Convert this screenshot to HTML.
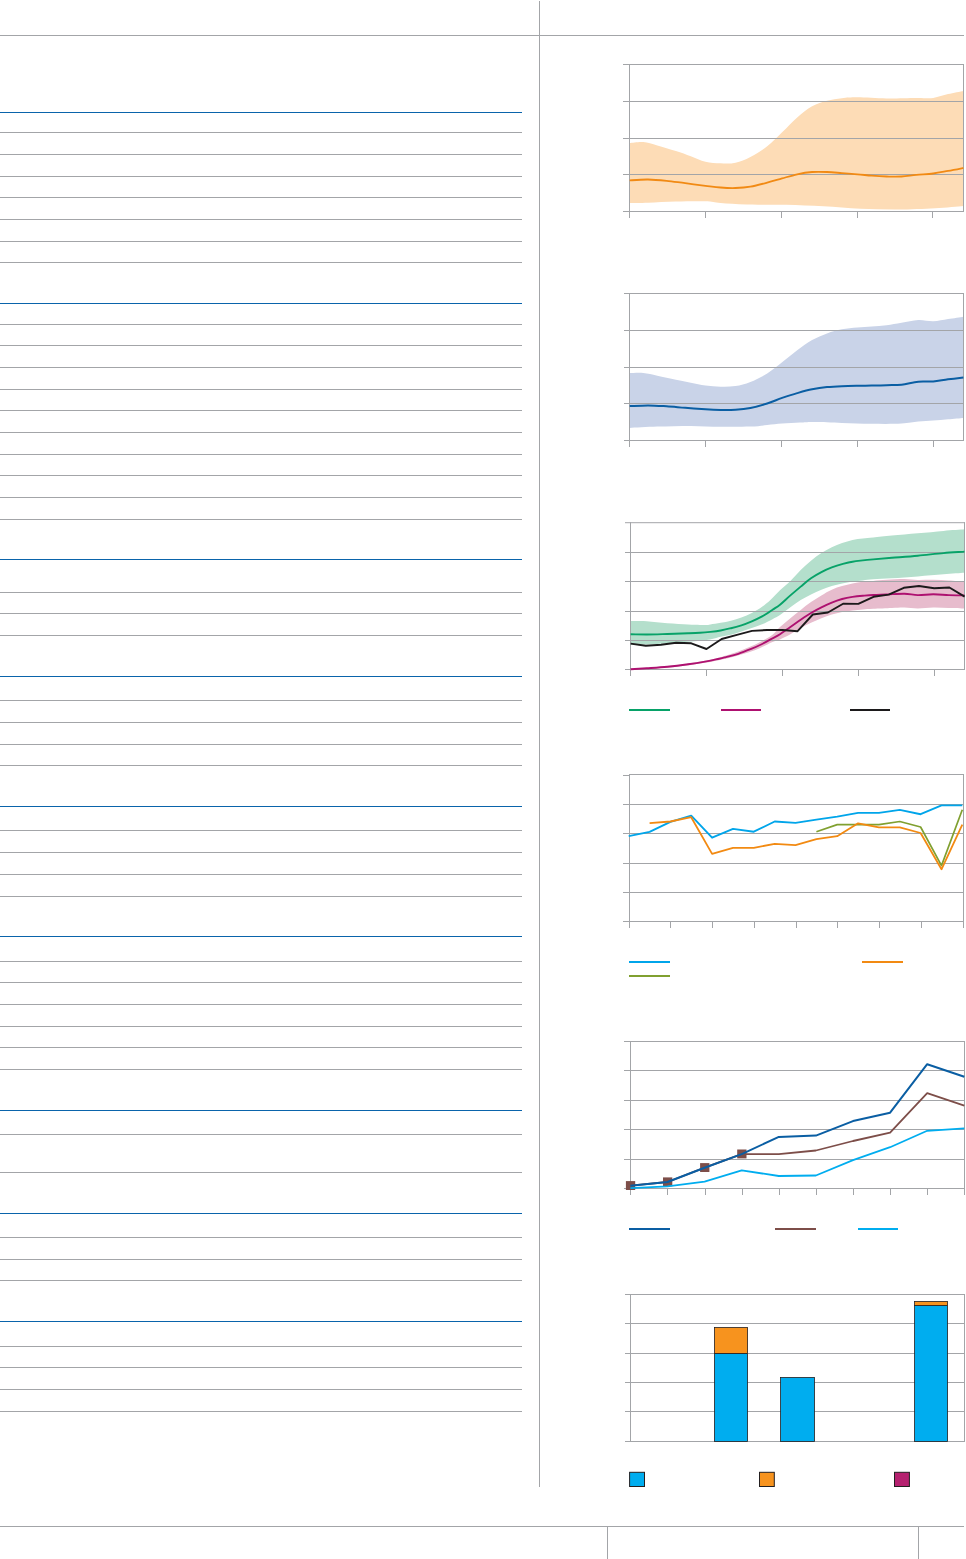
<!DOCTYPE html>
<html lang="en"><head><meta charset="utf-8"><title>Page</title>
<style>
html,body{margin:0;padding:0;background:#fff;font-family:"Liberation Sans",sans-serif;}
svg{display:block}
</style></head>
<body>
<svg width="966" height="1559" viewBox="0 0 966 1559" shape-rendering="auto">
<rect width="966" height="1559" fill="#fff"/>
<rect x="0" y="35" width="964" height="1" fill="#a3a5a8" />
<rect x="539" y="1" width="1" height="1486" fill="#a3a5a8" />
<rect x="0" y="1526" width="964" height="1" fill="#a3a5a8" />
<rect x="607" y="1526" width="1" height="33" fill="#a3a5a8" />
<rect x="918" y="1526" width="1" height="33" fill="#a3a5a8" />
<rect x="0" y="132" width="522" height="1" fill="#a3a5a8" />
<rect x="0" y="154" width="522" height="1" fill="#a3a5a8" />
<rect x="0" y="176" width="522" height="1" fill="#a3a5a8" />
<rect x="0" y="197" width="522" height="1" fill="#a3a5a8" />
<rect x="0" y="219" width="522" height="1" fill="#a3a5a8" />
<rect x="0" y="241" width="522" height="1" fill="#a3a5a8" />
<rect x="0" y="262" width="522" height="1" fill="#a3a5a8" />
<rect x="0" y="324" width="522" height="1" fill="#a3a5a8" />
<rect x="0" y="345" width="522" height="1" fill="#a3a5a8" />
<rect x="0" y="367" width="522" height="1" fill="#a3a5a8" />
<rect x="0" y="389" width="522" height="1" fill="#a3a5a8" />
<rect x="0" y="410" width="522" height="1" fill="#a3a5a8" />
<rect x="0" y="432" width="522" height="1" fill="#a3a5a8" />
<rect x="0" y="454" width="522" height="1" fill="#a3a5a8" />
<rect x="0" y="475" width="522" height="1" fill="#a3a5a8" />
<rect x="0" y="497" width="522" height="1" fill="#a3a5a8" />
<rect x="0" y="519" width="522" height="1" fill="#a3a5a8" />
<rect x="0" y="592" width="522" height="1" fill="#a3a5a8" />
<rect x="0" y="613" width="522" height="1" fill="#a3a5a8" />
<rect x="0" y="635" width="522" height="1" fill="#a3a5a8" />
<rect x="0" y="700" width="522" height="1" fill="#a3a5a8" />
<rect x="0" y="722" width="522" height="1" fill="#a3a5a8" />
<rect x="0" y="744" width="522" height="1" fill="#a3a5a8" />
<rect x="0" y="765" width="522" height="1" fill="#a3a5a8" />
<rect x="0" y="830" width="522" height="1" fill="#a3a5a8" />
<rect x="0" y="852" width="522" height="1" fill="#a3a5a8" />
<rect x="0" y="874" width="522" height="1" fill="#a3a5a8" />
<rect x="0" y="896" width="522" height="1" fill="#a3a5a8" />
<rect x="0" y="961" width="522" height="1" fill="#a3a5a8" />
<rect x="0" y="982" width="522" height="1" fill="#a3a5a8" />
<rect x="0" y="1004" width="522" height="1" fill="#a3a5a8" />
<rect x="0" y="1026" width="522" height="1" fill="#a3a5a8" />
<rect x="0" y="1047" width="522" height="1" fill="#a3a5a8" />
<rect x="0" y="1069" width="522" height="1" fill="#a3a5a8" />
<rect x="0" y="1134" width="522" height="1" fill="#a3a5a8" />
<rect x="0" y="1172" width="522" height="1" fill="#a3a5a8" />
<rect x="0" y="1237" width="522" height="1" fill="#a3a5a8" />
<rect x="0" y="1259" width="522" height="1" fill="#a3a5a8" />
<rect x="0" y="1280" width="522" height="1" fill="#a3a5a8" />
<rect x="0" y="1346" width="522" height="1" fill="#a3a5a8" />
<rect x="0" y="1367" width="522" height="1" fill="#a3a5a8" />
<rect x="0" y="1389" width="522" height="1" fill="#a3a5a8" />
<rect x="0" y="1411" width="522" height="1" fill="#a3a5a8" />
<rect x="0" y="112" width="522" height="1" fill="#0a64ab" />
<rect x="0" y="303" width="522" height="1" fill="#0a64ab" />
<rect x="0" y="559" width="522" height="1" fill="#0a64ab" />
<rect x="0" y="676" width="522" height="1" fill="#0a64ab" />
<rect x="0" y="806" width="522" height="1" fill="#0a64ab" />
<rect x="0" y="936" width="522" height="1" fill="#0a64ab" />
<rect x="0" y="1110" width="522" height="1" fill="#0a64ab" />
<rect x="0" y="1213" width="522" height="1" fill="#0a64ab" />
<rect x="0" y="1321" width="522" height="1" fill="#0a64ab" />
<path d="M629.7,143.0 C632.0,142.8 638.7,141.6 643.3,142.0 C647.9,142.4 651.9,143.9 657.3,145.4 C662.7,146.9 670.3,149.2 675.9,151.0 C681.5,152.8 685.9,154.4 690.8,156.2 C695.7,158.0 700.5,160.6 705.5,161.8 C710.5,163.0 715.6,163.2 720.6,163.3 C725.6,163.5 730.5,163.8 735.5,162.7 C740.5,161.6 745.1,159.6 750.4,156.9 C755.7,154.2 761.9,150.4 767.2,146.3 C772.5,142.2 777.1,137.1 782.1,132.3 C787.1,127.5 792.2,121.8 797.2,117.4 C802.2,113.1 807.1,109.0 812.1,106.2 C817.1,103.4 822.0,102.0 827.0,100.7 C832.0,99.4 836.8,98.8 841.9,98.2 C847.0,97.6 849.9,97.3 857.4,97.3 C864.9,97.3 876.8,98.3 886.6,98.4 C896.4,98.5 908.6,98.0 916.4,97.9 C924.2,97.8 927.9,98.5 933.2,97.9 C938.5,97.3 943.1,95.2 948.1,94.1 C953.1,92.9 960.9,91.5 963.4,91.0 L963.4,205.9 C958.7,206.3 946.0,207.6 935.1,208.2 C924.2,208.8 910.2,209.4 897.8,209.5 C885.4,209.6 872.9,209.2 860.5,208.7 C848.1,208.2 835.7,207.0 823.3,206.3 C810.9,205.7 798.8,205.1 786.0,204.8 C773.2,204.5 757.6,204.9 746.7,204.6 C735.8,204.3 727.5,203.6 720.6,203.1 C713.7,202.6 713.0,201.6 705.5,201.3 C698.0,201.1 685.5,201.3 675.9,201.6 C666.3,201.8 655.7,202.6 648.0,202.8 C640.3,203.1 632.8,203.1 629.7,203.1 Z" fill="#fddcb6"/>
<rect x="623" y="64" width="341" height="1" fill="#a3a5a8" />
<rect x="623" y="101" width="341" height="1" fill="#a3a5a8" />
<rect x="623" y="138" width="341" height="1" fill="#a3a5a8" />
<rect x="623" y="174" width="341" height="1" fill="#a3a5a8" />
<rect x="623" y="211" width="341" height="1" fill="#a3a5a8" />
<rect x="629" y="64" width="1" height="154" fill="#a3a5a8" />
<rect x="963" y="64" width="1" height="148" fill="#a3a5a8" />
<rect x="705" y="211" width="1" height="7" fill="#a3a5a8" />
<rect x="781" y="211" width="1" height="7" fill="#a3a5a8" />
<rect x="857" y="211" width="1" height="7" fill="#a3a5a8" />
<rect x="932" y="211" width="1" height="7" fill="#a3a5a8" />
<path d="M629.7,180.4 C632.8,180.2 641.9,179.4 648.0,179.5 C654.1,179.6 660.4,180.2 666.6,180.8 C672.8,181.4 678.7,182.4 685.2,183.2 C691.7,184.0 699.6,185.1 705.5,185.8 C711.4,186.5 715.6,187.1 720.6,187.5 C725.6,187.9 730.5,188.2 735.5,188.0 C740.5,187.8 745.1,187.5 750.4,186.6 C755.7,185.7 761.9,184.0 767.2,182.6 C772.5,181.2 777.1,179.8 782.1,178.4 C787.1,177.0 792.2,175.4 797.2,174.3 C802.2,173.2 807.1,172.4 812.1,172.0 C817.1,171.6 822.0,171.8 827.0,172.0 C832.0,172.2 836.8,172.7 841.9,173.1 C847.0,173.5 852.4,173.9 857.4,174.3 C862.4,174.7 866.8,175.3 871.7,175.7 C876.6,176.1 881.6,176.4 886.6,176.5 C891.6,176.6 896.5,176.8 901.5,176.5 C906.5,176.2 911.1,175.3 916.4,174.8 C921.7,174.3 927.9,174.2 933.2,173.5 C938.5,172.8 943.1,171.8 948.1,170.9 C953.1,170.0 960.9,168.4 963.4,167.9" fill="none" stroke="#f18a14" stroke-width="1.8"/>
<path d="M629.7,373.1 C632.0,373.1 638.7,372.6 643.3,373.0 C647.9,373.4 651.9,374.6 657.3,375.7 C662.7,376.8 670.3,378.5 675.9,379.7 C681.5,380.9 685.9,381.8 690.8,382.8 C695.7,383.8 700.5,385.0 705.5,385.6 C710.5,386.2 715.6,386.6 720.6,386.7 C725.6,386.8 730.5,386.8 735.5,386.0 C740.5,385.2 745.1,384.0 750.4,381.9 C755.7,379.8 761.9,376.8 767.2,373.5 C772.5,370.2 777.1,366.2 782.1,362.3 C787.1,358.4 792.2,353.9 797.2,350.2 C802.2,346.5 807.1,342.8 812.1,340.0 C817.1,337.2 822.0,335.2 827.0,333.4 C832.0,331.6 836.8,330.3 841.9,329.3 C847.0,328.3 852.4,328.0 857.4,327.5 C862.4,327.0 866.8,326.8 871.7,326.4 C876.6,326.0 881.6,325.8 886.6,325.2 C891.6,324.6 896.2,323.7 901.5,322.8 C906.8,321.9 913.0,320.2 918.3,320.0 C923.6,319.8 928.2,321.4 933.2,321.3 C938.2,321.2 943.1,319.9 948.1,319.1 C953.1,318.3 960.9,317.1 963.4,316.7 L963.4,417.9 C960.9,418.1 953.1,418.8 948.1,419.2 C943.1,419.6 938.2,420.2 933.2,420.6 C928.2,421.0 923.6,421.1 918.3,421.6 C913.0,422.1 909.3,423.2 901.5,423.6 C893.7,424.0 881.6,423.9 871.7,423.8 C861.8,423.7 851.5,423.2 841.9,422.9 C832.3,422.6 821.0,422.1 814.0,422.0 C807.0,421.9 805.3,422.3 800.0,422.6 C794.7,422.9 787.6,423.2 782.1,423.6 C776.6,424.0 772.5,424.6 767.2,425.1 C761.9,425.6 758.2,426.3 750.4,426.6 C742.6,426.9 730.5,426.9 720.6,426.8 C710.7,426.7 701.3,425.9 690.8,425.9 C680.2,425.9 667.5,426.3 657.3,426.6 C647.1,426.9 634.3,427.7 629.7,427.9 Z" fill="#c9d3e8"/>
<rect x="624" y="293" width="340" height="1" fill="#a3a5a8" />
<rect x="624" y="330" width="340" height="1" fill="#a3a5a8" />
<rect x="624" y="367" width="340" height="1" fill="#a3a5a8" />
<rect x="624" y="403" width="340" height="1" fill="#a3a5a8" />
<rect x="624" y="440" width="340" height="1" fill="#a3a5a8" />
<rect x="629" y="293" width="1" height="154" fill="#a3a5a8" />
<rect x="963" y="293" width="1" height="148" fill="#a3a5a8" />
<rect x="705" y="440" width="1" height="7" fill="#a3a5a8" />
<rect x="781" y="440" width="1" height="7" fill="#a3a5a8" />
<rect x="857" y="440" width="1" height="7" fill="#a3a5a8" />
<rect x="933" y="440" width="1" height="7" fill="#a3a5a8" />
<path d="M629.7,406.1 C632.8,406.0 641.9,405.4 648.0,405.4 C654.1,405.4 660.4,405.9 666.6,406.3 C672.8,406.7 678.7,407.3 685.2,407.8 C691.7,408.3 699.6,408.9 705.5,409.3 C711.4,409.7 715.6,409.9 720.6,410.0 C725.6,410.1 730.5,410.1 735.5,409.8 C740.5,409.5 745.1,409.1 750.4,408.0 C755.7,406.9 761.9,405.2 767.2,403.5 C772.5,401.8 777.1,399.6 782.1,397.9 C787.1,396.2 792.2,394.5 797.2,393.1 C802.2,391.7 807.1,390.3 812.1,389.3 C817.1,388.3 822.0,387.6 827.0,387.1 C832.0,386.6 836.8,386.4 841.9,386.2 C847.0,386.0 852.4,385.9 857.4,385.8 C862.4,385.7 866.8,385.7 871.7,385.6 C876.6,385.5 881.6,385.4 886.6,385.2 C891.6,385.0 896.2,385.3 901.5,384.7 C906.8,384.1 913.0,382.2 918.3,381.7 C923.6,381.2 928.2,381.9 933.2,381.5 C938.2,381.1 943.1,379.9 948.1,379.3 C953.1,378.7 960.9,377.9 963.4,377.6" fill="none" stroke="#0a5ea3" stroke-width="2.0"/>
<path d="M630.6,620.9 C633.3,621.0 640.6,620.8 646.7,621.2 C652.8,621.6 660.5,622.8 667.4,623.3 C674.3,623.8 682.7,624.2 688.1,624.5 C693.5,624.8 697.0,624.8 700.0,624.9 C703.0,625.0 704.7,625.1 706.4,625.0 C708.1,624.9 708.0,624.8 710.4,624.4 C712.8,624.0 717.3,623.4 720.7,622.8 C724.1,622.2 727.5,621.6 731.0,620.7 C734.5,619.8 737.9,618.9 741.4,617.6 C744.9,616.3 748.3,614.7 751.8,612.9 C755.2,611.1 759.0,608.9 762.1,606.7 C765.2,604.6 767.4,602.8 770.4,600.0 C773.4,597.2 776.7,593.4 780.0,590.2 C783.3,587.0 786.9,584.3 790.4,580.9 C793.9,577.5 797.3,573.4 800.7,570.0 C804.1,566.6 807.5,563.5 811.0,560.7 C814.5,557.9 817.9,555.2 821.4,553.0 C824.9,550.8 828.3,548.9 831.8,547.3 C835.2,545.6 838.6,544.3 842.1,543.1 C845.6,541.9 849.0,540.8 852.5,540.0 C856.0,539.2 859.3,538.9 862.8,538.5 C866.2,538.1 868.4,537.9 873.2,537.4 C878.1,536.9 884.5,536.2 891.9,535.5 C899.3,534.8 909.2,534.1 917.8,533.3 C926.4,532.5 935.8,531.6 943.6,530.9 C951.4,530.2 961.0,529.6 964.5,529.3 L964.5,572.8 C961.0,573.0 951.4,573.7 943.6,574.3 C935.8,574.9 926.4,575.8 917.8,576.4 C909.2,577.0 899.3,577.7 891.9,578.2 C884.5,578.7 878.1,578.9 873.2,579.3 C868.4,579.7 866.2,580.0 862.8,580.4 C859.3,580.8 856.0,581.1 852.5,581.6 C849.0,582.1 845.6,582.8 842.1,583.5 C838.6,584.2 835.2,585.1 831.8,586.1 C828.3,587.1 824.9,588.3 821.4,589.7 C817.9,591.1 814.5,592.7 811.0,594.4 C807.5,596.1 804.1,598.0 800.7,600.1 C797.3,602.2 793.9,604.8 790.4,607.3 C786.9,609.8 783.0,613.1 780.0,615.1 C777.0,617.1 775.5,617.7 772.5,619.2 C769.5,620.7 765.6,622.8 762.1,624.3 C758.6,625.8 755.2,626.8 751.8,628.0 C748.3,629.2 744.9,630.5 741.4,631.6 C737.9,632.7 734.5,633.9 731.0,634.7 C727.5,635.6 723.9,636.0 720.7,636.7 C717.5,637.4 714.9,638.3 712.0,638.9 C709.1,639.5 707.0,640.0 703.5,640.4 C700.0,640.8 695.7,641.1 691.2,641.5 C686.7,641.9 681.7,642.1 676.7,642.5 C671.7,642.9 666.1,643.5 661.0,643.8 C655.9,644.1 651.1,644.4 646.0,644.5 C640.9,644.6 633.2,644.7 630.6,644.7 Z" fill="#b4dfcc"/>
<path d="M630.6,668.9 C638.1,668.3 663.3,666.6 675.9,665.2 C688.5,663.8 698.9,661.7 706.4,660.4 C713.9,659.1 715.8,658.5 720.6,657.2 C725.5,655.9 730.3,654.5 735.5,652.6 C740.7,650.8 747.4,648.0 751.8,646.1 C756.2,644.2 758.6,642.9 762.1,641.0 C765.6,639.1 769.5,637.0 772.5,634.7 C775.5,632.4 777.0,629.8 780.0,627.0 C783.0,624.2 786.9,621.1 790.4,618.2 C793.9,615.4 797.3,612.6 800.7,609.9 C804.1,607.2 807.5,604.5 811.0,602.1 C814.5,599.7 817.9,597.5 821.4,595.4 C824.9,593.3 828.3,591.2 831.8,589.7 C835.2,588.2 838.6,587.1 842.1,586.1 C845.6,585.1 849.0,584.2 852.5,583.5 C856.0,582.8 859.3,582.1 862.8,581.7 C866.2,581.3 869.2,581.2 873.2,580.9 C877.2,580.6 881.5,580.1 886.7,579.8 C891.9,579.5 899.1,579.0 904.3,579.0 C909.5,579.0 913.0,579.9 917.8,580.0 C922.6,580.1 928.1,579.7 933.3,579.8 C938.5,579.9 943.6,580.3 948.8,580.6 C954.0,580.9 961.9,581.4 964.5,581.6 L964.5,608.5 C961.9,608.4 954.0,608.2 948.8,608.0 C943.6,607.8 938.5,607.4 933.3,607.5 C928.1,607.6 922.6,608.5 917.8,608.5 C913.0,608.5 908.6,607.6 904.3,607.5 C900.0,607.4 897.1,607.8 891.9,608.0 C886.7,608.2 878.1,608.6 873.2,608.8 C868.4,609.0 866.2,609.1 862.8,609.4 C859.3,609.7 856.0,610.0 852.5,610.4 C849.0,610.8 845.6,611.3 842.1,612.0 C838.6,612.7 835.2,613.5 831.8,614.5 C828.3,615.5 824.9,616.8 821.4,618.2 C817.9,619.6 814.5,621.2 811.0,622.8 C807.5,624.4 804.1,626.1 800.7,628.0 C797.3,629.9 793.9,632.3 790.4,634.2 C786.9,636.1 783.0,638.1 780.0,639.4 C777.0,640.7 775.5,640.6 772.5,641.9 C769.5,643.2 765.6,645.4 762.1,647.0 C758.6,648.6 756.2,649.8 751.8,651.3 C747.4,652.8 740.7,654.8 735.5,656.2 C730.3,657.6 725.5,658.7 720.6,659.8 C715.8,660.9 713.9,661.4 706.4,662.6 C698.9,663.8 688.5,665.7 675.9,666.9 C663.3,668.1 638.1,669.1 630.6,669.6 Z" fill="#e7bccd"/>
<rect x="625" y="522.2" width="340" height="1" fill="#a3a5a8" />
<rect x="625" y="552" width="340" height="1" fill="#a3a5a8" />
<rect x="625" y="581" width="340" height="1" fill="#a3a5a8" />
<rect x="625" y="611" width="340" height="1" fill="#a3a5a8" />
<rect x="625" y="640" width="340" height="1" fill="#a3a5a8" />
<rect x="625" y="669" width="340" height="1" fill="#a3a5a8" />
<rect x="630" y="522.2" width="1" height="153.8" fill="#a3a5a8" />
<rect x="964" y="522.2" width="1" height="147.8" fill="#a3a5a8" />
<rect x="706" y="669" width="1" height="7" fill="#a3a5a8" />
<rect x="782" y="669" width="1" height="7" fill="#a3a5a8" />
<rect x="858" y="669" width="1" height="7" fill="#a3a5a8" />
<rect x="934" y="669" width="1" height="7" fill="#a3a5a8" />
<path d="M630.6,634.3 C633.3,634.3 640.6,634.5 646.7,634.5 C652.8,634.5 660.5,634.2 667.4,634.0 C674.3,633.8 682.7,633.5 688.1,633.3 C693.5,633.1 696.3,633.0 700.0,632.8 C703.7,632.6 706.9,632.3 710.4,631.9 C713.9,631.5 717.3,631.1 720.7,630.5 C724.1,629.9 727.5,629.1 731.0,628.2 C734.5,627.4 737.9,626.5 741.4,625.4 C744.9,624.3 748.3,622.9 751.8,621.4 C755.2,619.9 758.6,618.3 762.1,616.4 C765.6,614.5 769.5,611.8 772.5,609.8 C775.5,607.8 777.0,607.1 780.0,604.7 C783.0,602.3 786.9,598.4 790.4,595.4 C793.9,592.4 797.3,589.5 800.7,586.6 C804.1,583.8 807.5,580.7 811.0,578.3 C814.5,575.9 817.9,573.9 821.4,572.1 C824.9,570.3 828.3,568.7 831.8,567.4 C835.2,566.1 838.6,565.0 842.1,564.1 C845.6,563.2 849.0,562.3 852.5,561.7 C856.0,561.1 859.3,560.8 862.8,560.4 C866.2,560.0 868.4,559.8 873.2,559.4 C878.1,559.0 884.5,558.4 891.9,557.8 C899.3,557.2 909.2,556.5 917.8,555.7 C926.4,554.9 935.8,553.8 943.6,553.1 C951.4,552.4 961.0,551.9 964.5,551.6" fill="none" stroke="#07a268" stroke-width="1.9"/>
<path d="M630.6,669.2 C633.3,669.0 640.6,668.6 646.7,668.2 C652.8,667.8 660.5,667.4 667.4,666.7 C674.3,666.1 681.6,665.2 688.1,664.3 C694.6,663.4 701.2,662.3 706.4,661.4 C711.6,660.5 715.9,659.4 719.2,658.7 C722.5,658.0 722.8,657.9 726.0,657.1 C729.2,656.3 734.0,655.2 738.3,653.8 C742.6,652.4 747.8,650.3 751.8,648.7 C755.8,647.1 758.6,645.7 762.1,644.0 C765.6,642.3 769.5,639.9 772.5,638.3 C775.5,636.7 777.0,636.1 780.0,634.2 C783.0,632.3 786.9,629.4 790.4,627.0 C793.9,624.6 797.3,622.0 800.7,619.7 C804.1,617.4 807.5,615.1 811.0,613.0 C814.5,610.9 817.9,609.0 821.4,607.3 C824.9,605.6 828.3,604.0 831.8,602.6 C835.2,601.2 838.6,600.0 842.1,599.0 C845.6,598.0 849.0,597.4 852.5,596.9 C856.0,596.4 859.3,596.1 862.8,595.8 C866.2,595.5 869.2,595.2 873.2,595.0 C877.2,594.8 881.5,594.7 886.7,594.5 C891.9,594.3 899.1,593.6 904.3,593.7 C909.5,593.8 913.0,595.0 917.8,595.1 C922.6,595.2 928.1,594.3 933.3,594.3 C938.5,594.3 943.6,594.9 948.8,595.1 C954.0,595.3 961.9,595.4 964.5,595.4" fill="none" stroke="#ae1170" stroke-width="1.9"/>
<polyline points="630.6,643.6 645.8,645.7 661.0,644.7 676.1,642.8 691.3,643.3 706.5,649.0 721.7,639.0 736.9,634.9 752.0,630.9 767.2,630.0 782.4,630.0 797.6,631.2 812.8,614.5 827.9,612.5 843.1,603.7 858.3,603.9 873.5,596.8 888.7,594.6 903.8,587.8 919.0,586.0 934.2,588.3 949.4,587.5 964.6,596.6" fill="none" stroke="#1c1a1b" stroke-width="1.9" stroke-linejoin="round" />
<rect x="629" y="709" width="41" height="2" fill="#07a268" />
<rect x="721" y="709" width="40" height="2" fill="#ae1170" />
<rect x="850" y="709" width="40" height="2" fill="#1c1a1b" />
<rect x="629" y="774" width="335" height="1" fill="#a3a5a8" />
<rect x="623" y="775" width="6" height="1" fill="#a3a5a8" />
<rect x="623" y="804" width="341" height="1" fill="#a3a5a8" />
<rect x="623" y="833" width="341" height="1" fill="#a3a5a8" />
<rect x="623" y="863" width="341" height="1" fill="#a3a5a8" />
<rect x="623" y="892" width="341" height="1" fill="#a3a5a8" />
<rect x="623" y="921" width="341" height="1" fill="#a3a5a8" />
<rect x="629" y="774" width="1" height="154" fill="#a3a5a8" />
<rect x="963" y="774" width="1" height="148" fill="#a3a5a8" />
<rect x="670" y="921" width="1" height="7" fill="#a3a5a8" />
<rect x="712" y="921" width="1" height="7" fill="#a3a5a8" />
<rect x="754" y="921" width="1" height="7" fill="#a3a5a8" />
<rect x="796" y="921" width="1" height="7" fill="#a3a5a8" />
<rect x="837" y="921" width="1" height="7" fill="#a3a5a8" />
<rect x="879" y="921" width="1" height="7" fill="#a3a5a8" />
<rect x="921" y="921" width="1" height="7" fill="#a3a5a8" />
<rect x="963" y="921" width="1" height="7" fill="#a3a5a8" />
<polyline points="628.7,836.1 649.6,831.9 670.4,821.8 691.2,815.7 712.1,837.7 733.0,828.9 753.8,831.7 774.7,821.5 795.5,822.9 816.4,819.6 837.2,816.6 858.1,812.9 878.9,812.9 899.8,809.9 920.6,814.2 941.5,805.4 962.3,805.4" fill="none" stroke="#00a5ea" stroke-width="1.9" stroke-linejoin="round" />
<polyline points="816.4,831.7 837.2,824.6 858.1,824.6 878.9,824.6 899.8,821.5 920.6,827.0 941.5,865.6 962.3,809.7" fill="none" stroke="#80a030" stroke-width="1.7" stroke-linejoin="round" />
<polyline points="649.6,823.1 670.4,821.5 691.2,817.2 712.1,853.9 733.0,847.9 753.8,847.9 774.7,843.8 795.5,845.1 816.4,839.2 837.2,836.2 858.1,823.3 878.9,827.4 899.8,827.4 920.6,833.0 941.5,869.3 962.3,824.6" fill="none" stroke="#f28a12" stroke-width="1.8" stroke-linejoin="round" />
<rect x="629" y="961" width="41" height="2" fill="#00a5ea" />
<rect x="862" y="961" width="41" height="2" fill="#f28a12" />
<rect x="629" y="975" width="41" height="2" fill="#80a030" />
<rect x="624" y="1041" width="341" height="1" fill="#a3a5a8" />
<rect x="624" y="1070" width="341" height="1" fill="#a3a5a8" />
<rect x="624" y="1100" width="341" height="1" fill="#a3a5a8" />
<rect x="624" y="1129" width="341" height="1" fill="#a3a5a8" />
<rect x="624" y="1159" width="341" height="1" fill="#a3a5a8" />
<rect x="624" y="1188" width="341" height="1" fill="#a3a5a8" />
<rect x="630" y="1041" width="1" height="154" fill="#a3a5a8" />
<rect x="964" y="1041" width="1" height="148" fill="#a3a5a8" />
<rect x="667" y="1188" width="1" height="7" fill="#a3a5a8" />
<rect x="705" y="1188" width="1" height="7" fill="#a3a5a8" />
<rect x="742" y="1188" width="1" height="7" fill="#a3a5a8" />
<rect x="779" y="1188" width="1" height="7" fill="#a3a5a8" />
<rect x="816" y="1188" width="1" height="7" fill="#a3a5a8" />
<rect x="853" y="1188" width="1" height="7" fill="#a3a5a8" />
<rect x="890" y="1188" width="1" height="7" fill="#a3a5a8" />
<rect x="927" y="1188" width="1" height="7" fill="#a3a5a8" />
<rect x="964" y="1188" width="1" height="7" fill="#a3a5a8" />
<rect x="625.9" y="1181.1" width="9.3" height="8.9" fill="#7d4e49" />
<rect x="663.0" y="1177.4" width="9.3" height="8.9" fill="#7d4e49" />
<rect x="700.1" y="1163.1" width="9.3" height="8.9" fill="#7d4e49" />
<rect x="737.2" y="1149.5" width="9.3" height="8.9" fill="#7d4e49" />
<polyline points="630.4,1185.7 667.5,1182.0 704.6,1167.7 741.7,1154.1 778.8,1154.1 815.9,1150.5 853.0,1141.0 890.1,1132.6 927.2,1093.1 964.3,1105.6" fill="none" stroke="#7d4e49" stroke-width="1.8" stroke-linejoin="round" />
<polyline points="630.4,1188.1 667.5,1186.3 704.6,1181.6 741.7,1170.3 778.8,1176.0 815.9,1175.5 853.0,1160.2 890.1,1147.2 927.2,1130.8 964.3,1128.3" fill="none" stroke="#00adef" stroke-width="1.8" stroke-linejoin="round" />
<polyline points="630.4,1185.7 667.5,1182.0 704.6,1167.7 741.7,1154.1 778.8,1136.9 815.9,1135.6 853.0,1121.1 890.1,1112.7 927.2,1064.2 964.3,1076.7" fill="none" stroke="#0a5ea3" stroke-width="2.0" stroke-linejoin="round" />
<rect x="629" y="1228" width="41" height="2" fill="#0a5ea3" />
<rect x="775" y="1228" width="41" height="2" fill="#7d4e49" />
<rect x="858" y="1228" width="40" height="2" fill="#00adef" />
<rect x="625" y="1294" width="340" height="1" fill="#a3a5a8" />
<rect x="625" y="1323" width="340" height="1" fill="#a3a5a8" />
<rect x="625" y="1353" width="340" height="1" fill="#a3a5a8" />
<rect x="625" y="1382" width="340" height="1" fill="#a3a5a8" />
<rect x="625" y="1411" width="340" height="1" fill="#a3a5a8" />
<rect x="625" y="1441" width="340" height="1" fill="#a3a5a8" />
<rect x="630" y="1294" width="1" height="148" fill="#a3a5a8" />
<rect x="964" y="1294" width="1" height="148" fill="#a3a5a8" />
<rect x="714.5" y="1353.4" width="33.1" height="88.1" fill="#00adef" stroke="#231f20" stroke-width="0.8"/>
<rect x="714.5" y="1327.5" width="33.1" height="25.9" fill="#f7931e" stroke="#231f20" stroke-width="0.8"/>
<rect x="780.6" y="1377.4" width="33.9" height="64.1" fill="#00adef" stroke="#231f20" stroke-width="0.8"/>
<rect x="914.6" y="1305.5" width="33.0" height="136.0" fill="#00adef" stroke="#231f20" stroke-width="0.8"/>
<rect x="914.6" y="1301.4" width="33.0" height="4.1" fill="#f7931e" stroke="#231f20" stroke-width="0.8"/>
<rect x="629.6" y="1472.3" width="14.9" height="14.2" fill="#00adef" stroke="#231f20" stroke-width="1"/>
<rect x="759.5" y="1472.3" width="14.8" height="14.2" fill="#f7931e" stroke="#231f20" stroke-width="1"/>
<rect x="894.5" y="1472.3" width="14.9" height="14.2" fill="#b5216f" stroke="#231f20" stroke-width="1"/>
</svg>
</body></html>
